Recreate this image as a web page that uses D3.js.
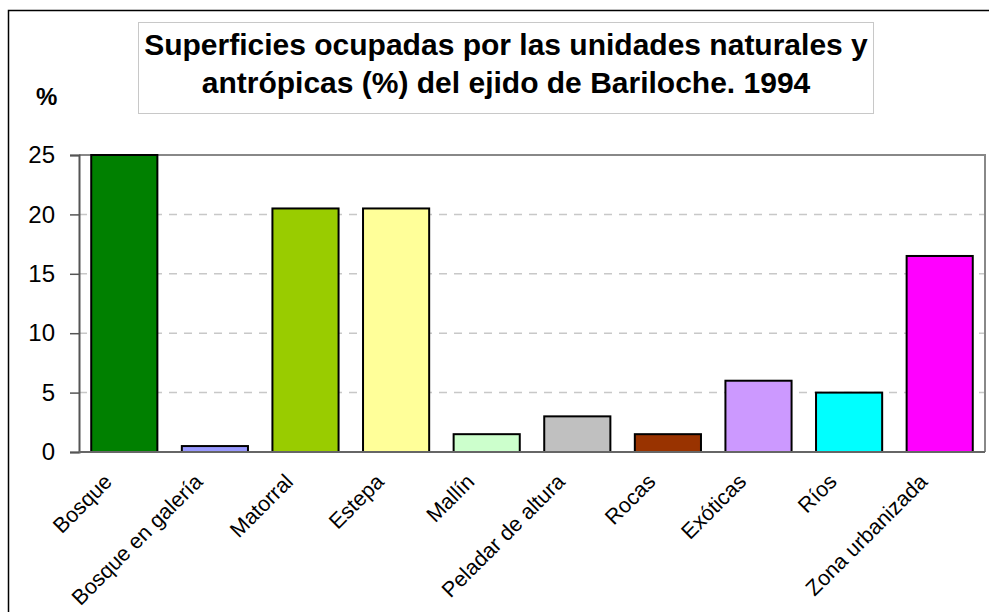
<!DOCTYPE html>
<html>
<head>
<meta charset="utf-8">
<script src="https://cdn.jsdelivr.net/npm/d3@7"></script>
<style>
  body { margin: 0; background: #fff; }
  svg { display: block; font-family: Arial, "Liberation Sans", sans-serif; }
</style>
</head>
<body>
<div id="chart"></div>
<script>
// Datos
const categorias = ["Bosque", "Bosque en galería", "Matorral", "Estepa", "Mallín",
  "Peladar de altura", "Rocas", "Exóticas", "Ríos", "Zona urbanizada"];
const valores = [25, 0.5, 20.5, 20.5, 1.5, 3, 1.5, 6, 5, 16.5];
const colores = ["#008000", "#9999FF", "#99CC00", "#FFFF99", "#CCFFCC",
  "#C0C0C0", "#993300", "#CC99FF", "#00FFFF", "#FF00FF"];
const ticksY = [0, 5, 10, 15, 20, 25];
const titulo = ["Superficies ocupadas por las unidades naturales y",
  "antrópicas (%) del ejido de Bariloche. 1994"];

const data = categorias.map((c, i) => ({ cat: c, val: valores[i], col: colores[i] }));

//---------------------------------------------------------------------------------------

// Lienzo SVG
const width = 989;
const height = 612;
const plot = { left: 79, right: 985, top: 155, bottom: 452 };

const svg = d3.select("#chart")
  .append("svg")
  .attr("width", width)
  .attr("height", height);

// marco exterior
svg.append("rect")
  .attr("x", 8.5)
  .attr("y", 10.5)
  .attr("width", 1000)
  .attr("height", 700)
  .attr("fill", "none")
  .attr("stroke", "#000")
  .attr("stroke-width", 1.5);

//---------------------------------------------------------------------------------------

// Escalas
const scaleX = d3.scaleBand()
  .domain(categorias)
  .range([plot.left, plot.right])
  .paddingInner(0.27)
  .paddingOuter(0.135);

const scaleY = d3.scaleLinear()
  .domain([0, 25])
  .range([plot.bottom, plot.top]);

//---------------------------------------------------------------------------------------

// Líneas de cuadrícula punteadas
svg.append("g")
  .selectAll("line")
  .data(ticksY.filter(d => d > 0 && d < 25))
  .join("line")
  .attr("x1", plot.left)
  .attr("x2", plot.right)
  .attr("y1", d => scaleY(d))
  .attr("y2", d => scaleY(d))
  .attr("stroke", "#c8c8c8")
  .attr("stroke-width", 1.5)
  .attr("stroke-dasharray", "8,7");

// borde del área de trazado (arriba y derecha)
svg.append("path")
  .attr("d", `M${plot.left},${scaleY(25)}H${plot.right}V${scaleY(0)}`)
  .attr("fill", "none")
  .attr("stroke", "#888")
  .attr("stroke-width", 2);

//---------------------------------------------------------------------------------------

// Barras
svg.append("g")
  .selectAll("rect")
  .data(data)
  .join("rect")
  .attr("x", d => scaleX(d.cat))
  .attr("y", d => scaleY(d.val))
  .attr("width", scaleX.bandwidth())
  .attr("height", d => scaleY(0) - scaleY(d.val))
  .attr("fill", d => d.col)
  .attr("stroke", "#000")
  .attr("stroke-width", 2);

//---------------------------------------------------------------------------------------

// Eje Y
svg.append("g")
  .attr("transform", `translate(${plot.left}, 0)`)
  .call(d3.axisLeft(scaleY).tickValues(ticksY).tickSize(9).tickPadding(15))
  .call(g => g.select(".domain").attr("stroke", "#555").attr("stroke-width", 2))
  .call(g => g.selectAll(".tick line").attr("stroke", "#555").attr("stroke-width", 1.5))
  .selectAll("text")
  .attr("fill", "#000")
  .style("font-size", "24px")
  .style("font-family", "Arial, 'Liberation Sans', sans-serif");

// Eje X (sólo la línea base)
svg.append("line")
  .attr("x1", plot.left)
  .attr("x2", plot.right)
  .attr("y1", scaleY(0))
  .attr("y2", scaleY(0))
  .attr("stroke", "#666")
  .attr("stroke-width", 2);

// Etiquetas de categoría rotadas
svg.append("g")
  .selectAll("text")
  .data(categorias)
  .join("text")
  .attr("transform", d => `translate(${scaleX(d) + scaleX.bandwidth() / 2 - 11}, ${scaleY(0) + 31}) rotate(-45)`)
  .attr("text-anchor", "end")
  .style("font-size", "21.5px")
  .text(d => d);

//---------------------------------------------------------------------------------------

// Título con su recuadro
svg.append("rect")
  .attr("x", 138.5)
  .attr("y", 22.5)
  .attr("width", 735)
  .attr("height", 91)
  .attr("fill", "#fff")
  .attr("stroke", "#c8c8c8")
  .attr("stroke-width", 1);

svg.append("g")
  .selectAll("text")
  .data(titulo)
  .join("text")
  .attr("x", 506)
  .attr("y", (d, i) => 55 + i * 38)
  .attr("text-anchor", "middle")
  .style("font-size", "30px")
  .style("font-weight", "bold")
  .text(d => d);

// Unidad del eje Y
svg.append("text")
  .attr("x", 36)
  .attr("y", 105)
  .style("font-size", "24px")
  .style("font-weight", "bold")
  .text("%");
</script>
</body>
</html>
